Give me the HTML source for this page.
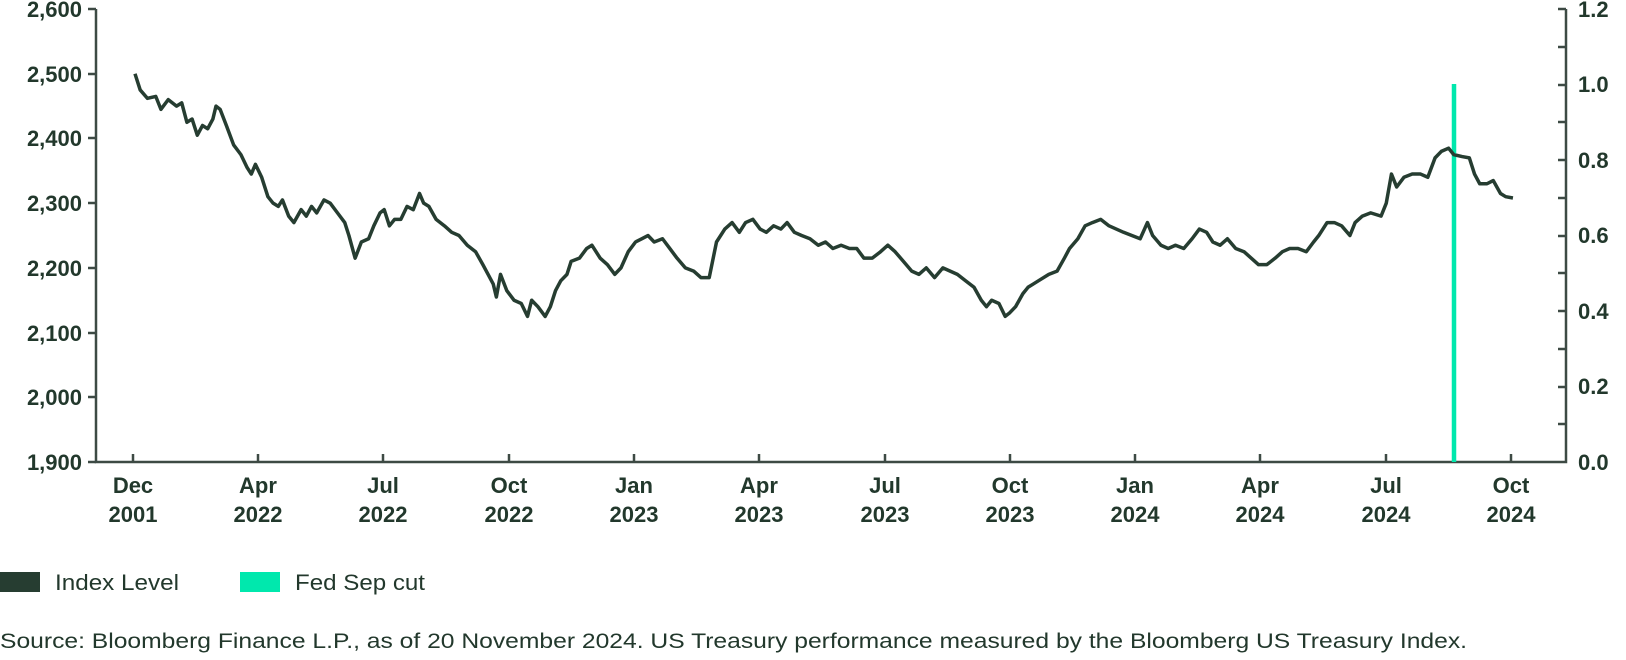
<!DOCTYPE html>
<html><head><meta charset="utf-8"><style>
html,body{margin:0;padding:0;background:#fff;}
svg{display:block;}
text{font-family:"Liberation Sans",sans-serif;fill:#22382c;}
.t{font-weight:bold;font-size:22px;}
</style></head><body>
<svg width="1626" height="660" viewBox="0 0 1626 660" xmlns="http://www.w3.org/2000/svg">
<g stroke="#3d4a44" stroke-width="2.5" fill="none">
<path d="M96,9V462H1566V9"/>
<path d="M88,9H96M88,74H96M88,138H96M88,203H96M88,268H96M88,333H96M88,397H96M88,462H96"/>
<path d="M1566,9H1558M1566,47H1558M1566,85H1558M1566,122H1558M1566,160H1558M1566,198H1558M1566,236H1558M1566,273H1558M1566,311H1558M1566,349H1558M1566,387H1558M1566,424H1558"/>
<path d="M133,462V454M258,462V454M383,462V454M509,462V454M634,462V454M759,462V454M885,462V454M1010,462V454M1135,462V454M1260,462V454M1386,462V454M1511,462V454"/>
</g>
<g class="t" text-anchor="end">
<text x="82" y="17">2,600</text><text x="82" y="82">2,500</text><text x="82" y="146">2,400</text><text x="82" y="211">2,300</text><text x="82" y="276">2,200</text><text x="82" y="341">2,100</text><text x="82" y="405">2,000</text><text x="82" y="470">1,900</text>
</g>
<g class="t">
<text x="1578" y="17">1.2</text><text x="1578" y="92">1.0</text><text x="1578" y="168">0.8</text><text x="1578" y="243">0.6</text><text x="1578" y="319">0.4</text><text x="1578" y="394">0.2</text><text x="1578" y="470">0.0</text>
</g>
<g class="t" text-anchor="middle">
<text x="133" y="493">Dec</text><text x="133" y="522">2001</text>
<text x="258" y="493">Apr</text><text x="258" y="522">2022</text>
<text x="383" y="493">Jul</text><text x="383" y="522">2022</text>
<text x="509" y="493">Oct</text><text x="509" y="522">2022</text>
<text x="634" y="493">Jan</text><text x="634" y="522">2023</text>
<text x="759" y="493">Apr</text><text x="759" y="522">2023</text>
<text x="885" y="493">Jul</text><text x="885" y="522">2023</text>
<text x="1010" y="493">Oct</text><text x="1010" y="522">2023</text>
<text x="1135" y="493">Jan</text><text x="1135" y="522">2024</text>
<text x="1260" y="493">Apr</text><text x="1260" y="522">2024</text>
<text x="1386" y="493">Jul</text><text x="1386" y="522">2024</text>
<text x="1511" y="493">Oct</text><text x="1511" y="522">2024</text>
</g>
<line x1="1454" y1="84" x2="1454" y2="462" stroke="#00e8ad" stroke-width="4.5"/>
<path transform="matrix(1.0384 0 0 -0.6471 0 1691.5)" vector-effect="non-scaling-stroke" fill="none" stroke="#263d31" stroke-width="3.5" stroke-linejoin="round" d="M130,2500 L135,2475 142,2462 150,2465 155,2445 162,2460 170,2450 175,2455 180,2425 185,2430 190,2405 195,2420 200,2415 205,2430 208,2450 212,2445 218,2420 225,2390 232,2375 238,2355 242,2345 246,2360 252,2340 258,2310 263,2300 268,2295 272,2305 278,2280 283,2270 290,2290 295,2280 300,2295 305,2285 312,2305 318,2300 325,2285 332,2270 336,2250 342,2215 348,2240 355,2245 360,2265 366,2285 370,2290 375,2265 380,2275 386,2275 392,2295 398,2290 404,2315 408,2300 413,2295 420,2275 428,2265 435,2255 442,2250 450,2235 458,2225 465,2205 470,2190 475,2175 478,2155 482,2190 488,2165 495,2150 502,2145 508,2125 512,2150 518,2140 525,2125 530,2140 535,2165 540,2180 546,2190 550,2210 558,2215 565,2230 570,2235 578,2215 585,2205 592,2190 598,2200 605,2225 612,2240 618,2245 624,2250 630,2240 638,2245 645,2230 652,2215 660,2200 668,2195 675,2185 683,2185 690,2240 698,2260 705,2270 712,2255 718,2270 725,2275 732,2260 738,2255 745,2265 752,2260 758,2270 765,2255 772,2250 780,2245 788,2235 795,2240 802,2230 810,2235 818,2230 825,2230 832,2215 840,2215 848,2225 855,2235 862,2225 870,2210 878,2195 885,2190 892,2200 900,2185 908,2200 915,2195 922,2190 930,2180 938,2170 945,2150 950,2140 955,2150 962,2145 968,2125 972,2130 978,2140 985,2160 990,2170 995,2175 1000,2180 1010,2190 1018,2195 1025,2215 1030,2230 1038,2245 1045,2265 1052,2270 1060,2275 1068,2265 1075,2260 1082,2255 1090,2250 1098,2245 1105,2270 1110,2250 1118,2235 1125,2230 1132,2235 1140,2230 1148,2245 1155,2260 1162,2255 1168,2240 1175,2235 1182,2245 1190,2230 1198,2225 1205,2215 1212,2205 1220,2205 1228,2215 1235,2225 1242,2230 1250,2230 1258,2225 1265,2240 1270,2250 1278,2270 1285,2270 1292,2265 1300,2250 1305,2270 1312,2280 1320,2285 1330,2280 1335,2300 1340,2345 1345,2325 1352,2340 1360,2345 1368,2345 1375,2340 1382,2370 1388,2380 1395,2385 1400,2375 1408,2372 1415,2370 1420,2345 1425,2330 1432,2330 1438,2335 1445,2315 1450,2310 1457,2308"/>
<rect x="0" y="572" width="40" height="20" fill="#263d31"/>
<text x="55" y="590" font-size="22" textLength="124" lengthAdjust="spacingAndGlyphs">Index Level</text>
<rect x="240" y="572" width="40" height="20" fill="#00e8ad"/>
<text x="295" y="590" font-size="22" textLength="130" lengthAdjust="spacingAndGlyphs">Fed Sep cut</text>
<text x="0" y="648" font-size="21" textLength="1467" lengthAdjust="spacingAndGlyphs">Source: Bloomberg Finance L.P., as of 20 November 2024. US Treasury performance measured by the Bloomberg US Treasury Index.</text>
</svg>
</body></html>
